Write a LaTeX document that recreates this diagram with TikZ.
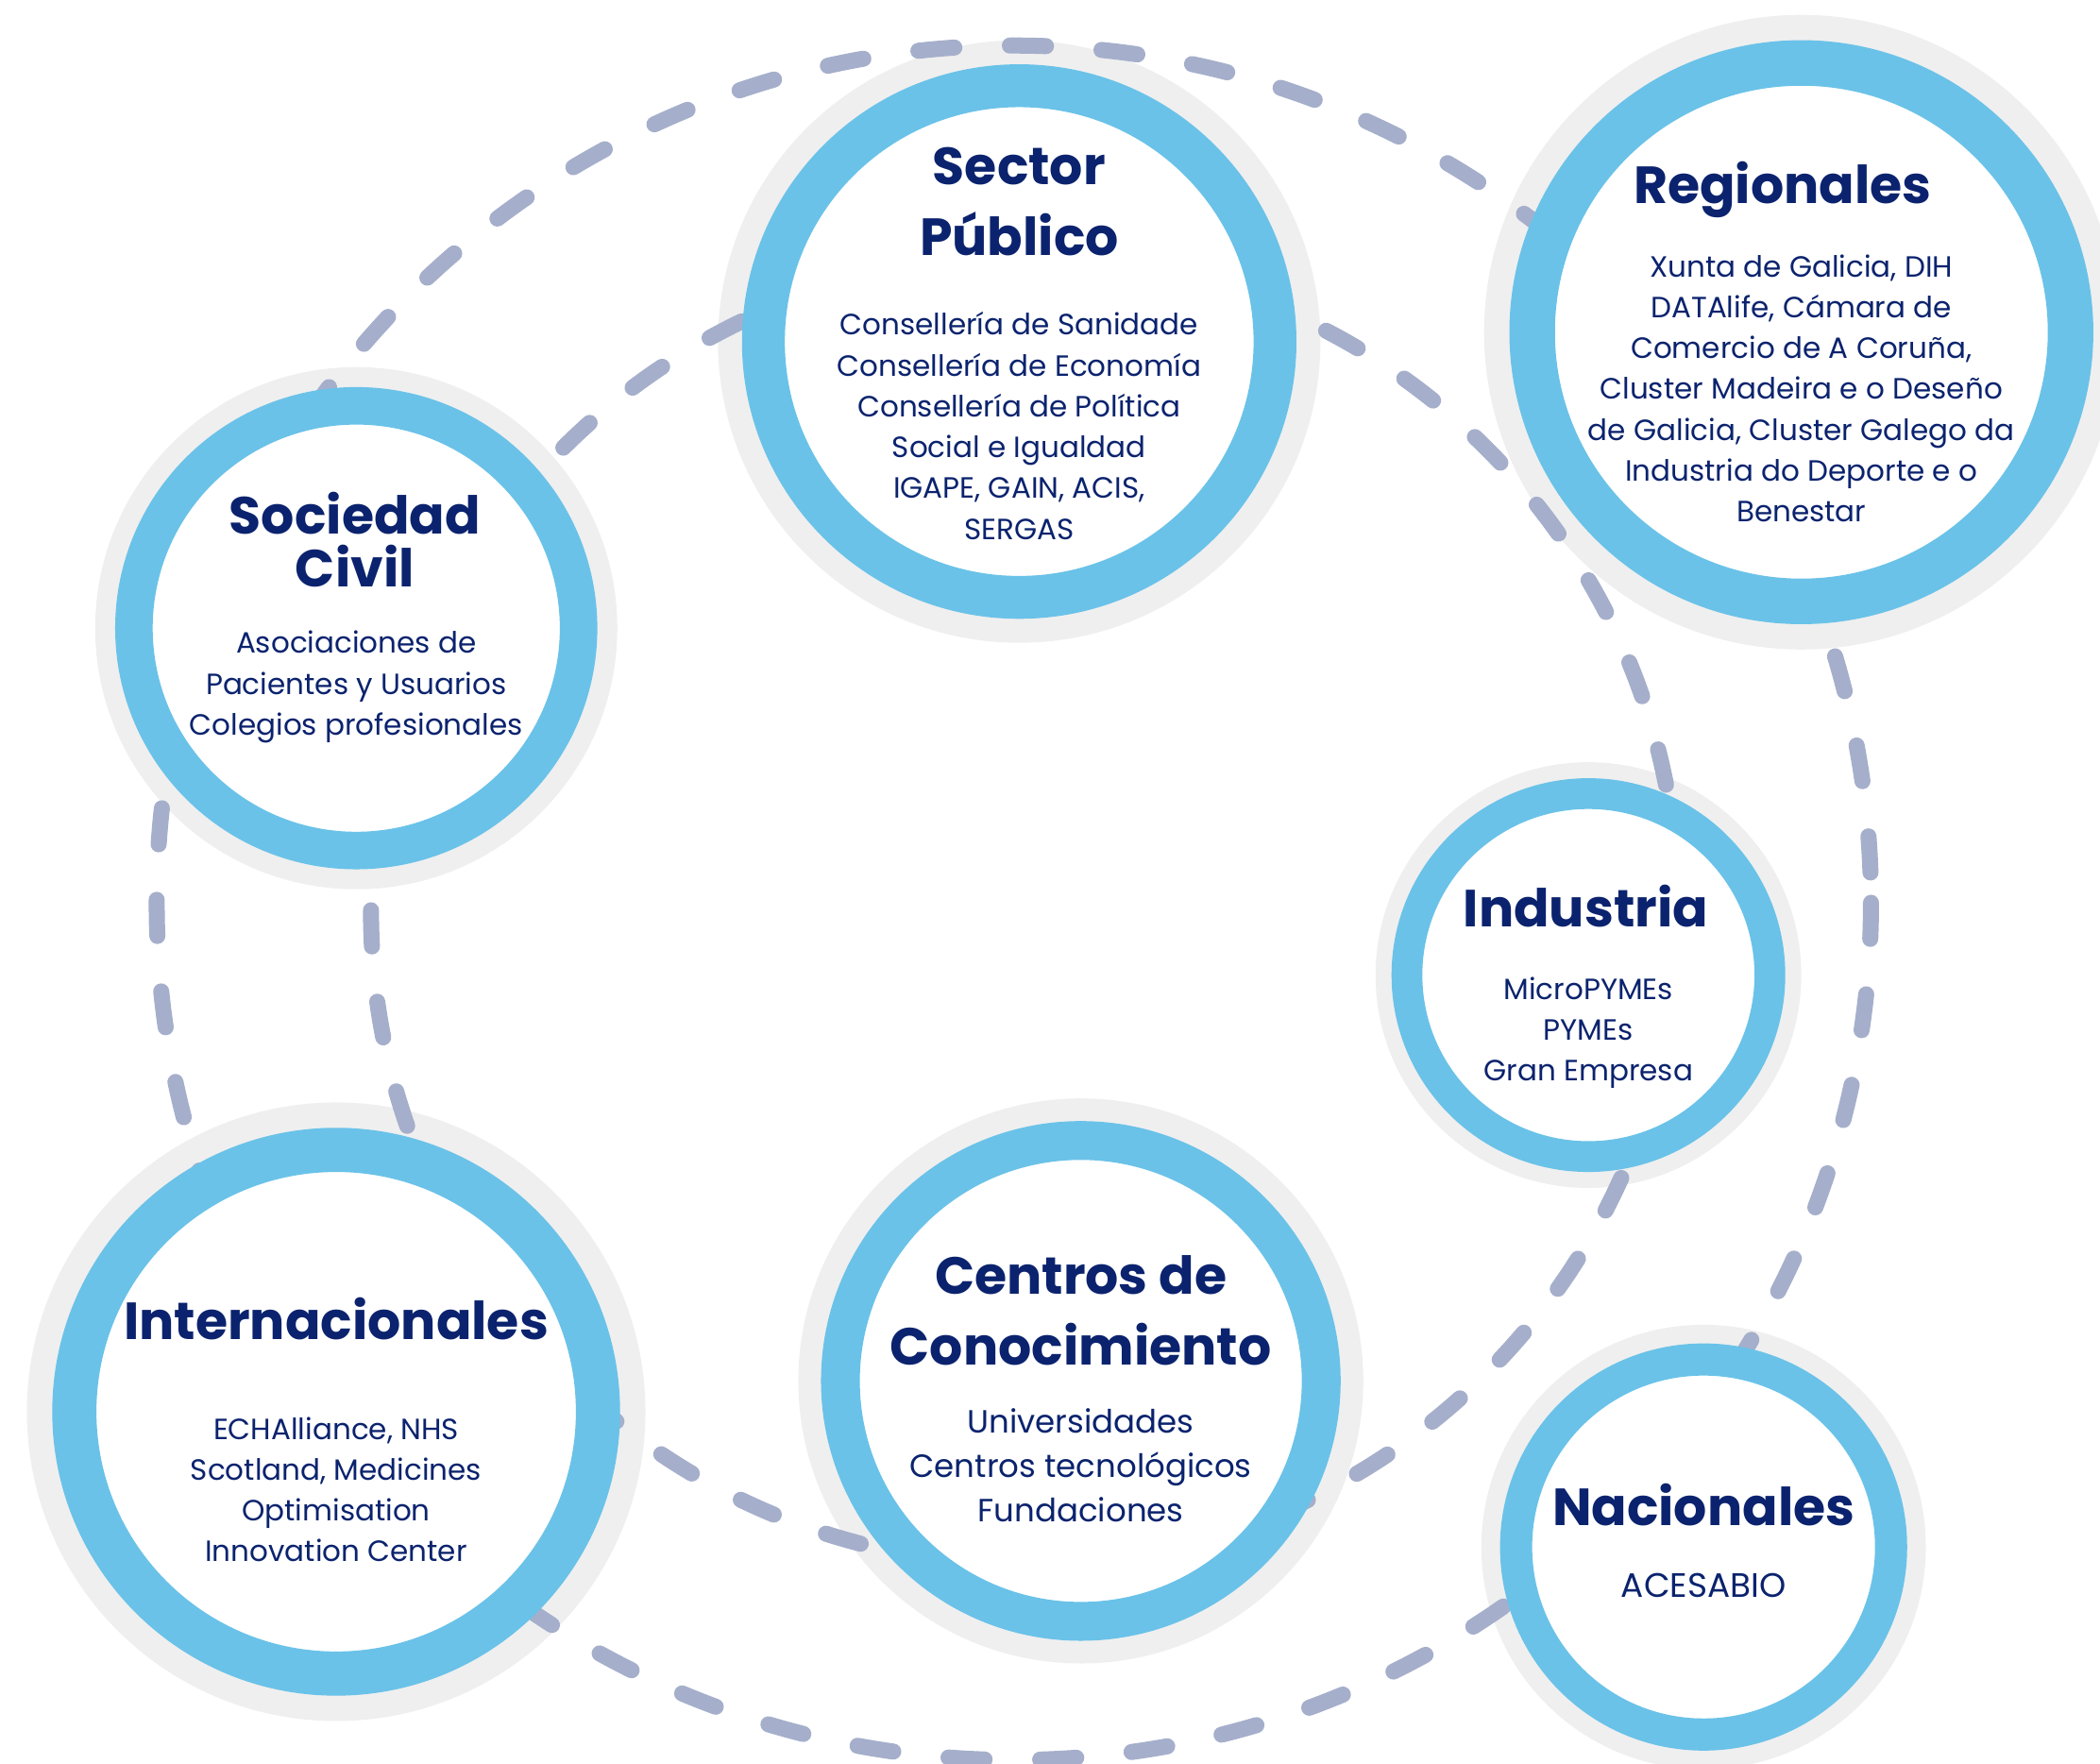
\documentclass[tikz,border=0pt]{standalone}
\usepackage{fontspec}
\setmainfont{Poppins}
\definecolor{cgrey}{HTML}{EFEFEF}
\definecolor{cblue}{HTML}{6AC2E8}
\definecolor{cdash}{HTML}{A5AFCB}
\definecolor{cnavy}{HTML}{0B236E}
\begin{document}
\begin{tikzpicture}[x=0.02cm,y=-0.02cm,
  greydisk/.style={circle, fill=cgrey, inner sep=0pt, minimum size=#1*0.04cm},
  bring/.style 2 args={circle, draw=cblue, fill=white, inner sep=0pt, line width=#2*0.02cm, minimum size=(2*#1-#2)*0.02cm},
  ttl/.style={font=\fontsize{22.2}{30.7}\selectfont\bfseries, text=cnavy, align=center, inner sep=0pt},
  bdy/.style={font=\fontsize{12.45}{17.36}\selectfont, text=cnavy, align=center, inner sep=0pt},
  dashline/.style={draw=cdash, line width=0.24cm, line cap=round, dash pattern=on 0.54cm off 0.83cm}]
\useasboundingbox (0,0) rectangle (1568,1317);
% grey halos
\node[greydisk=225] (sp-g) at (761,255) {};
\node[greydisk=237] (re-g) at (1345,248) {};
\node[greydisk=195] (sc-g) at (266,469) {};
\node[greydisk=159] (in-g) at (1186,728) {};
\node[greydisk=231] (it-g) at (251,1054) {};
\node[greydisk=211] (cc-g) at (807,1031) {};
\node[greydisk=166] (na-g) at (1272,1155) {};
% dashed orbits
\draw[dashline] (757,674) circle[radius=640];
\draw[dashline] (765,680) circle[radius=488];
% blue rings
\node[bring={207}{32}] (sp) at (761,255) {};
\node[bring={218}{34}] (re) at (1345,248) {};
\node[bring={180}{28}] (sc) at (266,469) {};
\node[bring={147}{23}] (in) at (1186,728) {};
\node[bring={212}{33}] (it) at (251,1054) {};
\node[bring={194}{29}] (cc) at (807,1031) {};
\node[bring={152}{24}] (na) at (1272,1155) {};
% texts
\node[ttl, anchor=base] (sp-t1) at (761,138) {Sector};
\node[ttl, anchor=base] (sp-t2) at (761,191) {Público};
\node[bdy] (sp-b) at (761,318) {Consellería de Sanidade\\Consellería de Economía\\Consellería de Política\\Social e Igualdad\\IGAPE, GAIN, ACIS,\\SERGAS};
\node[ttl, anchor=base] (re-t) at (1331,152) {Regionales};
\node[bdy] (re-b) at (1345,290) {Xunta de Galicia, DIH\\DATAlife, Cámara de\\Comercio de A Coruña,\\Cluster Madeira e o Deseño\\de Galicia, Cluster Galego da\\Industria do Deporte e o\\Benestar};
\node[ttl, anchor=base] (sc-t1) at (265,399) {Sociedad};
\node[ttl, anchor=base] (sc-t2) at (265,438) {Civil};
\node[bdy] (sc-b) at (266,513) {Asociaciones de\\Pacientes y Usuarios\\Colegios profesionales};
\node[ttl, anchor=base] (in-t) at (1184,692) {Industria};
\node[bdy] (in-b) at (1186,771) {MicroPYMEs\\PYMEs\\Gran Empresa};
\node[ttl, anchor=base] (it-t) at (251,1000) {Internacionales};
\node[bdy] (it-b) at (251,1112) {ECHAlliance, NHS\\Scotland, Medicines\\Optimisation\\Innovation Center};
\node[ttl, anchor=base] (cc-t1) at (807,966) {Centros de};
\node[ttl, anchor=base] (cc-t2) at (807,1019) {Conocimiento};
\node[bdy, font=\fontsize{13.65}{18.8}\selectfont] (cc-b) at (807,1094) {Universidades\\Centros tecnológicos\\Fundaciones};
\node[ttl, anchor=base] (na-t) at (1272,1139) {Nacionales};
\node[bdy, font=\fontsize{14.4}{18.8}\selectfont] (na-b) at (1272,1184) {ACESABIO};
\end{tikzpicture}
\end{document}
